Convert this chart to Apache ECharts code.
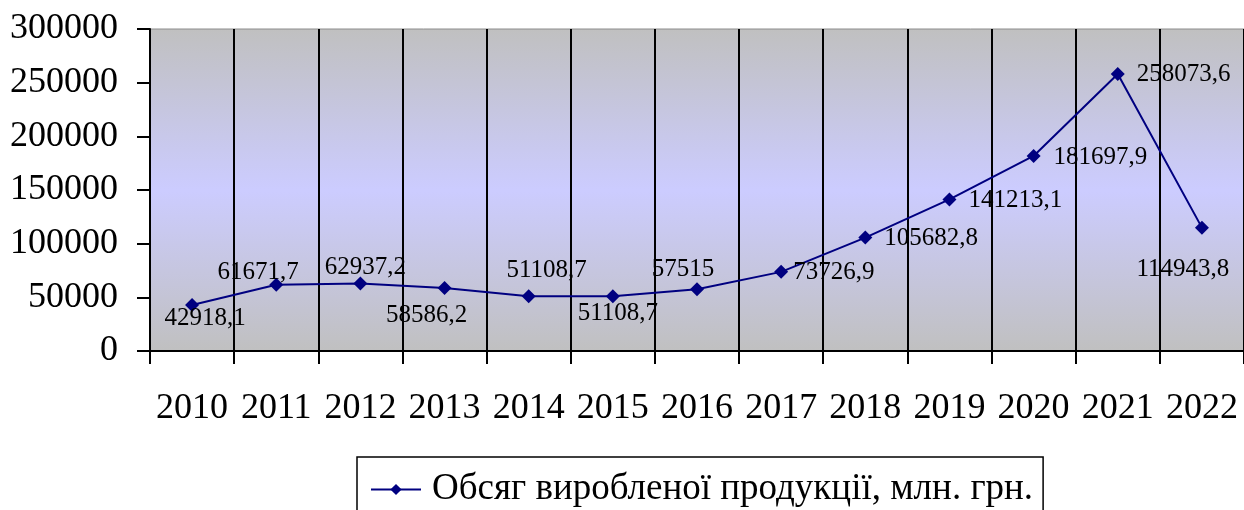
<!DOCTYPE html>
<html>
<head>
<meta charset="utf-8">
<title>Обсяг виробленої продукції</title>
<script src="https://cdn.jsdelivr.net/npm/echarts@6/dist/echarts.min.js"></script>
<style>
  html, body { margin: 0; padding: 0; background: #fff; }
  #chart { width: 1244px; height: 510px; }
</style>
</head>
<body>
<div id="chart"></div>
<script>
// дані
var years = ['2010', '2011', '2012', '2013', '2014', '2015', '2016',
             '2017', '2018', '2019', '2020', '2021', '2022'];
var output = [42918.1, 61671.7, 62937.2, 58586.2, 51108.7, 51108.7, 57515,
              73726.9, 105682.8, 141213.1, 181697.9, 258073.6, 114943.8];
var yTicks = { min: 0, max: 300000, step: 50000 };
var seriesName = 'Обсяг виробленої продукції, млн. грн.';

// де стоїть підпис біля кожної точки
var labelSpots = [
  ['bottom', 13, -11], ['top', -18, 12], ['top', 5, 8], ['bottom', -18, 3],
  ['top', 18, -1], ['bottom', 5, -7], ['top', -14, 5], ['right', 0, 1],
  ['right', 7, 1], ['right', 7, 1], ['right', 8, 1], ['right', 7, 0],
  ['bottom', -19, 17]
];

var fontFam = '"Liberation Serif", "Times New Roman", serif';

var points = output.map(function (v, i) {
  var s = labelSpots[i];
  return { value: v, label: { position: s[0], offset: [s[1], s[2]] } };
});

var myChart = echarts.init(document.getElementById('chart'));
var option = {
  animation: false,
  textStyle: { fontFamily: fontFam },
  grid: {
    left: 150, top: 29, right: -6, bottom: 159,
    show: true,
    borderColor: '#8c8c8c', borderWidth: 1,
    backgroundColor: new echarts.graphic.LinearGradient(0, 0, 0, 1, [
      { offset: 0, color: '#c0c0c0' },
      { offset: 0.5, color: '#ccccff' },
      { offset: 1, color: '#c0c0c0' }
    ])
  },
  legend: {
    left: 357, top: 457,
    padding: [14, 10, 30, 13],
    borderColor: '#000', borderWidth: 1.5,
    itemWidth: 50, itemHeight: 14,
    textStyle: { fontFamily: fontFam, fontSize: 37, color: '#000', padding: [0, 0, 0, 6] },
    data: [seriesName]
  },
  xAxis: {
    type: 'category',
    data: years,
    boundaryGap: true,
    axisLine: { lineStyle: { color: '#000', width: 2 } },
    axisTick: { show: true, length: 13, lineStyle: { color: '#000', width: 2 } },
    axisLabel: { color: '#000', fontFamily: fontFam, fontSize: 36, margin: 40, interval: 0 },
    splitLine: { show: true, lineStyle: { color: '#000', width: 2 } }
  },
  yAxis: {
    type: 'value',
    min: yTicks.min, max: yTicks.max, interval: yTicks.step,
    axisLine: { show: true, lineStyle: { color: '#000', width: 2 } },
    axisTick: { show: true, length: 13, lineStyle: { color: '#000', width: 2 } },
    axisLabel: {
      color: '#000', fontFamily: fontFam, fontSize: 36, margin: 32,
      formatter: function (v) { return String(v); }
    },
    splitLine: { show: false }
  },
  series: [{
    name: seriesName,
    type: 'line',
    data: points,
    symbol: 'diamond',
    symbolSize: 14,
    lineStyle: { color: '#000080', width: 2 },
    itemStyle: { color: '#000080' },
    label: {
      show: true,
      color: '#000',
      fontFamily: fontFam,
      fontSize: 25,
      formatter: function (p) { return String(p.value).replace('.', ','); }
    }
  }]
};
myChart.setOption(option);
</script>
</body>
</html>
